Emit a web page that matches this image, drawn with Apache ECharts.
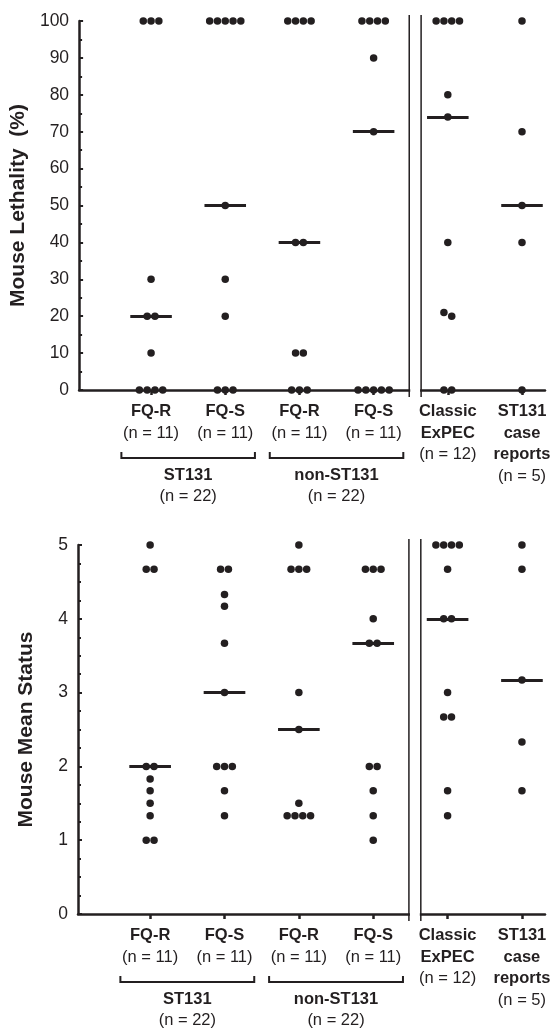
<!DOCTYPE html>
<html>
<head>
<meta charset="utf-8">
<script src="https://cdn.jsdelivr.net/npm/echarts@6/dist/echarts.min.js"></script>
<style>
html, body { margin: 0; padding: 0; background: #fff; }
#main { width: 557px; height: 1028px; }
</style>
</head>
<body>
<div id="main"></div>
<script>
// category positions on the x axis and their labels
var positions = [1, 2, 3, 4, 5, 6];
var categoryLabels = [
    ['FQ-R', '(n = 11)'],
    ['FQ-S', '(n = 11)'],
    ['FQ-R', '(n = 11)'],
    ['FQ-S', '(n = 11)'],
    ['Classic', 'ExPEC', '(n = 12)'],
    ['ST131', 'case', 'reports', '(n = 5)']
];
var groupNames = ['ST131', 'non-ST131'];
var groupCounts = ['(n = 22)', '(n = 22)'];

// mouse lethality (%)
var lethalityFqrSt131 = [100, 100, 100, 30, 20, 20, 10, 0, 0, 0, 0];
var lethalityFqsSt131 = [100, 100, 100, 100, 100, 50, 30, 20, 0, 0, 0];
var lethalityFqrNon = [100, 100, 100, 100, 40, 40, 10, 10, 0, 0, 0];
var lethalityFqsNon = [100, 100, 100, 100, 90, 70, 0, 0, 0, 0, 0];
var lethalityClassic = [100, 100, 100, 100, 80, 74, 40, 21, 20, 0, 0];
var lethalityCase = [100, 70, 50, 40, 0];
var lethalityMedians = [20, 50, 40, 70, 74, 50];
var lethalityTicks = [0, 10, 20, 30, 40, 50, 60, 70, 80, 90, 100];

// mouse mean status
var statusFqrSt131 = [5, 4.67, 4.67, 2, 2, 1.83, 1.67, 1.5, 1.33, 1, 1];
var statusFqsSt131 = [4.67, 4.67, 4.33, 4.17, 3.67, 3, 2, 2, 2, 1.67, 1.33];
var statusFqrNon = [5, 4.67, 4.67, 4.67, 3, 2.5, 1.5, 1.33, 1.33, 1.33, 1.33];
var statusFqsNon = [4.67, 4.67, 4.67, 4, 3.67, 3.67, 2, 2, 1.67, 1.33, 1];
var statusClassic = [5, 5, 5, 5, 4.67, 4, 4, 3, 2.67, 2.67, 1.67, 1.33];
var statusCase = [5, 4.67, 3.17, 2.33, 1.67];
var statusMedians = [2, 3, 2.5, 3.67, 4, 3.17];
var statusTicks = [0, 1, 2, 3, 4, 5];

var ink = '#231f20';
var font = '"Liberation Sans", Arial, sans-serif';
var xMin = 0.03, xMax = 6.31;
var breakX = [4.48, 4.64];
var bracketSpans = [[0.6, 2.4], [2.6, 4.4]];
var dotStep = 0.105;

// tied (or nearly tied) values sit side by side around the category centre
function spread(values, center, tol) {
    var sorted = values.slice().sort(function (a, b) { return b - a; });
    var out = [];
    var i = 0;
    while (i < sorted.length) {
        var j = i;
        while (j + 1 < sorted.length && sorted[i] - sorted[j + 1] <= tol) j++;
        var k = j - i + 1;
        for (var m = 0; m < k; m++) {
            out.push([center + (m - (k - 1) / 2) * dotStep, sorted[i + m]]);
        }
        i = j + 1;
    }
    return out;
}

function points(groups, tol) {
    var all = [];
    groups.forEach(function (g, idx) {
        all = all.concat(spread(g, positions[idx], tol));
    });
    return all;
}

function medianLines(medians) {
    return medians.map(function (m, idx) {
        return [{ coord: [positions[idx] - 0.28, m] }, { coord: [positions[idx] + 0.28, m] }];
    });
}

function labelFormatter(value) {
    var idx = positions.indexOf(Math.round(value));
    if (idx < 0) return '';
    return categoryLabels[idx].map(function (s) {
        return s.charAt(0) === '(' ? '{n|' + s + '}' : '{b|' + s + '}';
    }).join('\n');
}

function xAxisFor(gi) {
    return {
        gridIndex: gi,
        type: 'value',
        min: xMin,
        max: xMax,
        axisLine: { show: true, onZero: false, lineStyle: { color: ink, width: 2.5 } },
        axisTick: { show: true, customValues: positions, length: 5, lineStyle: { color: ink, width: 2.5 } },
        axisLabel: {
            show: true,
            customValues: positions,
            formatter: labelFormatter,
            margin: 11,
            color: ink,
            rich: {
                b: { fontFamily: font, fontWeight: 'bold', fontSize: 16.5, lineHeight: 21.5, color: ink },
                n: { fontFamily: font, fontSize: 16.5, lineHeight: 21.5, color: ink }
            }
        },
        splitLine: { show: false }
    };
}

function yAxisFor(gi, ticks, minorSplit, name) {
    return {
        gridIndex: gi,
        type: 'value',
        min: ticks[0],
        max: ticks[ticks.length - 1],
        interval: ticks[1] - ticks[0],
        name: name,
        nameLocation: 'middle',
        nameGap: 41,
        nameTextStyle: { fontFamily: font, fontWeight: 'bold', fontSize: 21, color: ink },
        axisLine: { show: true, lineStyle: { color: ink, width: 2.5 } },
        axisTick: { show: true, inside: true, length: 4, lineStyle: { color: ink, width: 2 } },
        minorTick: { show: true, splitNumber: minorSplit, length: 3, lineStyle: { color: ink, width: 2 } },
        axisLabel: { fontFamily: font, fontSize: 17.5, color: ink, margin: 10 },
        splitLine: { show: false }
    };
}

function scatterFor(gi, data, medians) {
    return {
        type: 'scatter',
        xAxisIndex: gi,
        yAxisIndex: gi,
        data: data,
        symbolSize: 7.5,
        clip: false,
        silent: true,
        itemStyle: { color: ink, opacity: 1 },
        z: 5,
        markLine: {
            silent: true,
            symbol: ['none', 'none'],
            label: { show: false },
            lineStyle: { color: ink, width: 3, type: 'solid' },
            data: medianLines(medians),
            animation: false
        }
    };
}

var chart = echarts.init(document.getElementById('main'));
var option = {
    animation: false,
    backgroundColor: '#fff',
    grid: [
        { left: 78, top: 21, width: 467, height: 369 },
        { left: 78, top: 545, width: 467, height: 369 }
    ],
    xAxis: [xAxisFor(0), xAxisFor(1)],
    yAxis: [
        yAxisFor(0, lethalityTicks, 2, 'Mouse Lethality  (%)'),
        yAxisFor(1, statusTicks, 4, 'Mouse Mean Status')
    ],
    series: [
        scatterFor(0, points([lethalityFqrSt131, lethalityFqsSt131, lethalityFqrNon, lethalityFqsNon, lethalityClassic, lethalityCase], 1.5), lethalityMedians),
        scatterFor(1, points([statusFqrSt131, statusFqsSt131, statusFqrNon, statusFqsNon, statusClassic, statusCase], 0.075), statusMedians)
    ]
};
chart.setOption(option);

// axis break, group brackets and group labels
var tops = [lethalityTicks[lethalityTicks.length - 1], statusTicks[statusTicks.length - 1]];
var graphics = [];
[0, 1].forEach(function (gi) {
    var base = chart.convertToPixel({ gridIndex: gi }, [breakX[0], 0]);
    var top = chart.convertToPixel({ gridIndex: gi }, [breakX[0], tops[gi]]);
    var x1 = base[0];
    var x2 = chart.convertToPixel({ gridIndex: gi }, [breakX[1], 0])[0];
    var axisY = base[1];
    graphics.push({
        type: 'rect', z: 100,
        shape: { x: x1 + 1, y: axisY - 3, width: x2 - x1 - 2, height: 6 },
        style: { fill: '#fff' }
    });
    [x1, x2].forEach(function (x) {
        graphics.push({
            type: 'line', z: 101,
            shape: { x1: x, y1: top[1] - 6, x2: x, y2: axisY + 7 },
            style: { stroke: ink, lineWidth: 1.5 }
        });
    });
    bracketSpans.forEach(function (span, k) {
        var a = chart.convertToPixel({ gridIndex: gi }, [span[0], 0])[0];
        var b = chart.convertToPixel({ gridIndex: gi }, [span[1], 0])[0];
        var y = axisY + 68;
        graphics.push({
            type: 'polyline', z: 100,
            shape: { points: [[a, y - 6], [a, y], [b, y], [b, y - 6]] },
            style: { stroke: ink, lineWidth: 2, fill: null }
        });
        graphics.push({
            type: 'text', z: 100,
            style: {
                text: groupNames[k], x: (a + b) / 2, y: axisY + 85,
                align: 'center', verticalAlign: 'middle',
                font: 'bold 16.5px ' + font, fill: ink
            }
        });
        graphics.push({
            type: 'text', z: 100,
            style: {
                text: groupCounts[k], x: (a + b) / 2, y: axisY + 106,
                align: 'center', verticalAlign: 'middle',
                font: '16.5px ' + font, fill: ink
            }
        });
    });
});
chart.setOption({ graphic: graphics });
</script>
</body>
</html>
